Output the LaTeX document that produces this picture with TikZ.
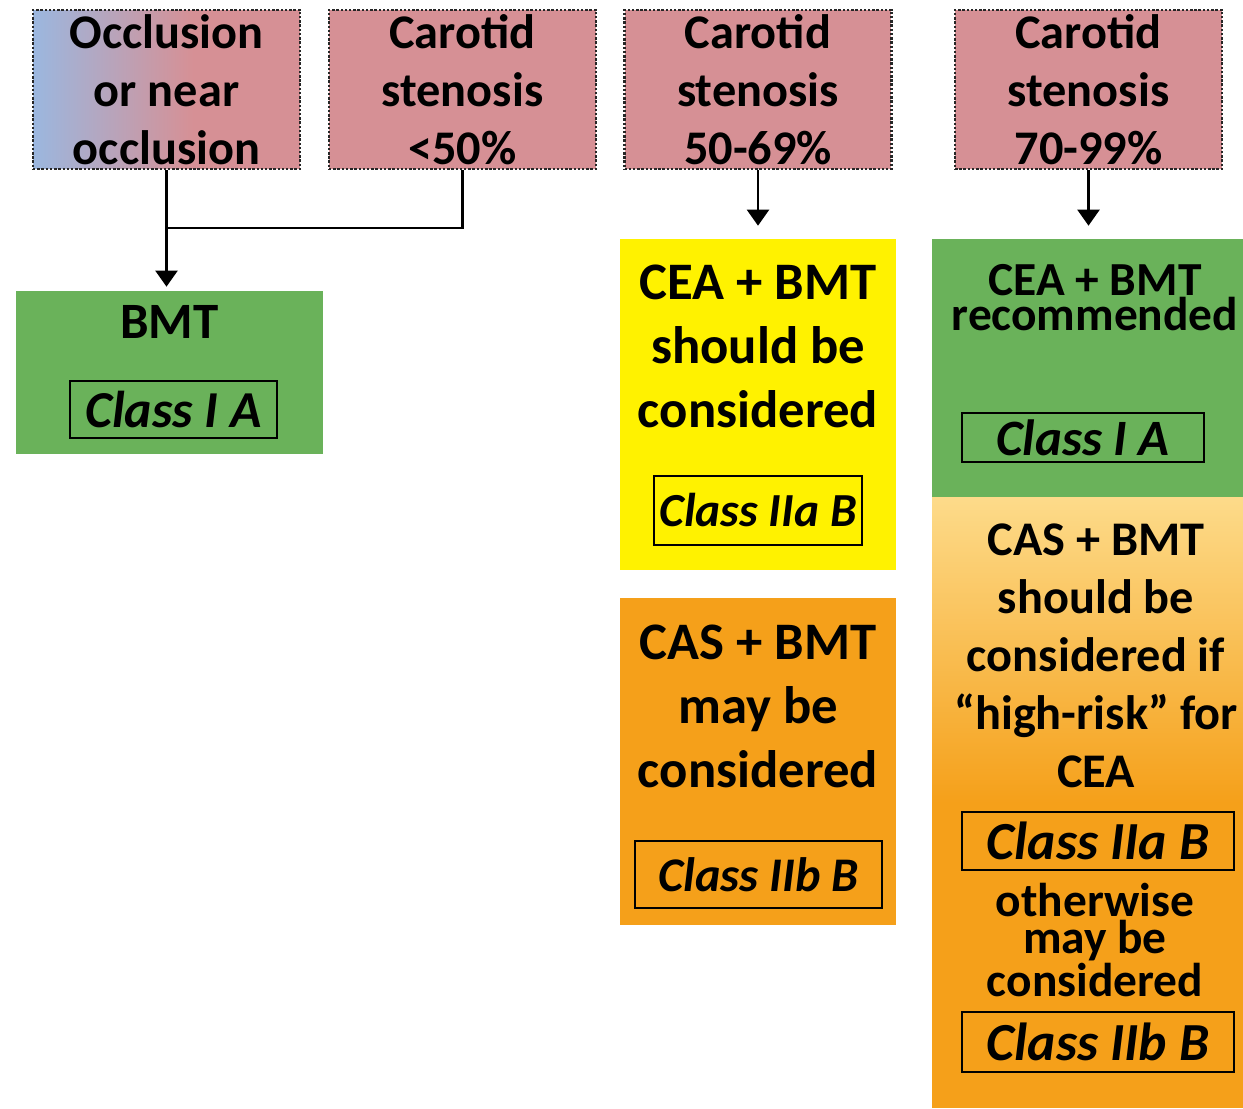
\documentclass[tikz,border=0pt]{standalone}
\usepackage{fontspec}
\setmainfont{Carlito}
\usepackage{xcolor}
\usepackage{tikz}
\usetikzlibrary{positioning, arrows.meta, shapes, calc}

\definecolor{stenpink}{HTML}{D69095}
\definecolor{occlblue}{HTML}{9BB7DF}
\definecolor{bmtgreen}{HTML}{6AB25A}
\definecolor{ceayellow}{HTML}{FFF200}
\definecolor{casorange}{HTML}{F5A01A}
\definecolor{caslight}{HTML}{FDDB8A}
\pgfdeclarehorizontalshading{occlshade}{100bp}{color(0bp)=(occlblue); color(25bp)=(occlblue); color(55bp)=(stenpink); color(100bp)=(stenpink)}
\pgfdeclareverticalshading{casshade}{100bp}{color(0bp)=(casorange); color(50bp)=(casorange); color(75bp)=(caslight); color(100bp)=(caslight)}

\begin{document}
\begin{tikzpicture}[
        x=0.02cm, y=-0.02cm,
        topbox/.style={rectangle, draw=black!85, densely dotted, line width=1.4pt, fill=stenpink, minimum width=5.34cm, minimum height=3.18cm, inner sep=0pt, align=center, font=\fontsize{27.5}{33}\selectfont\bfseries},
        outerbox/.style={rectangle, inner sep=0pt},
        boxtext/.style={align=center, inner sep=0pt, font=\fontsize{30}{36.4}\selectfont\bfseries},
        tighttext/.style={align=center, inner sep=0pt, font=\fontsize{27}{21}\selectfont\bfseries},
        classbox/.style={rectangle, draw, line width=0.9pt, inner sep=0pt, font=\fontsize{29}{35}\selectfont\bfseries\itshape},
        arrow/.style={line width=1.3pt, -{Triangle[width=0.44cm, length=0.32cm]}},
        plain/.style={line width=1.3pt}
    ]
    \useasboundingbox (0,0) rectangle (1243,1108);

    % stenosis grades
    \node[topbox, shading=occlshade] (occl) at (166.5,89.5) {Occlusion\\or near\\occlusion};
    \foreach \nm/\cx/\rng in {sten1/462.5/{<50\%}, sten2/758/{50-69\%}, sten3/1088.5/{70-99\%}} {
        \node[topbox] (\nm) at (\cx,89.5) {Carotid\\stenosis\\\rng};
    }

    % recommendation boxes
    \node[outerbox, fill=bmtgreen, minimum width=6.14cm, minimum height=3.26cm] (bmt) at (169.5,372.5) {};
    \node[outerbox, fill=ceayellow, minimum width=5.52cm, minimum height=6.62cm] (ceayel) at (758,404.5) {};
    \node[outerbox, fill=casorange, minimum width=5.52cm, minimum height=6.54cm] (casmid) at (758,761.5) {};
    \node[outerbox, fill=bmtgreen, minimum width=6.22cm, minimum height=5.16cm] (cearec) at (1087.5,368) {};
    \node[outerbox, shading=casshade, minimum width=6.22cm, minimum height=12.22cm] (casrisk) at (1087.5,802.5) {};

    \node[boxtext, font=\fontsize{29}{35}\selectfont\bfseries] (bmtlbl) at (169.5,322) {BMT};
    \node[classbox, minimum width=4.14cm, minimum height=1.14cm, font=\fontsize{29.5}{35}\selectfont\bfseries\itshape] (bmtcls) at (173.5,409.5) {Class I A};

    \node[boxtext] (ceayellbl) at (758,346) {CEA + BMT\\should be\\considered};
    \node[classbox, minimum width=4.16cm, minimum height=1.38cm, font=\fontsize{27}{33}\selectfont\bfseries\itshape] (ceayelcls) at (758,510.5) {Class IIa B};

    \node[boxtext] (casmidlbl) at (758,706) {CAS + BMT\\may be\\considered};
    \node[classbox, minimum width=4.94cm, minimum height=1.34cm, font=\fontsize{27.5}{33}\selectfont\bfseries\itshape] (casmidcls) at (758.5,874.5) {Class IIb B};

    \node[tighttext, font=\fontsize{27}{20}\selectfont\bfseries] (cearecllbl) at (1095,298) {CEA + BMT\\recommended};
    \node[classbox, minimum width=4.84cm, minimum height=0.98cm] (cearecls) at (1083,437.5) {Class I A};

    \node[boxtext, font=\fontsize{27.5}{33}\selectfont\bfseries] (casrisklbl) at (1096,656) {CAS + BMT\\should be\\considered if\\``high-risk'' for\\CEA};
    \node[classbox, minimum width=5.44cm, minimum height=1.16cm, font=\fontsize{30.5}{35}\selectfont\bfseries\itshape] (riskclsa) at (1098,841) {Class IIa B};
    \node[tighttext] (otherlbl) at (1095,940) {otherwise\\may be\\considered};
    \node[classbox, minimum width=5.44cm, minimum height=1.2cm, font=\fontsize{30.5}{35}\selectfont\bfseries\itshape] (riskclsb) at (1098,1042) {Class IIb B};

    % connectors
    \coordinate (join) at (166.5,228);
    \draw[plain] (sten1.south) |- (join);
    \draw[arrow, shorten >=0.08cm] (occl.south) -- (occl.south |- bmt.north);
    \draw[arrow, shorten >=0.26cm] (sten2.south) -- (sten2.south |- ceayel.north);
    \draw[arrow, shorten >=0.26cm] (sten3.south) -- (sten3.south |- cearec.north);
\end{tikzpicture}
\end{document}
